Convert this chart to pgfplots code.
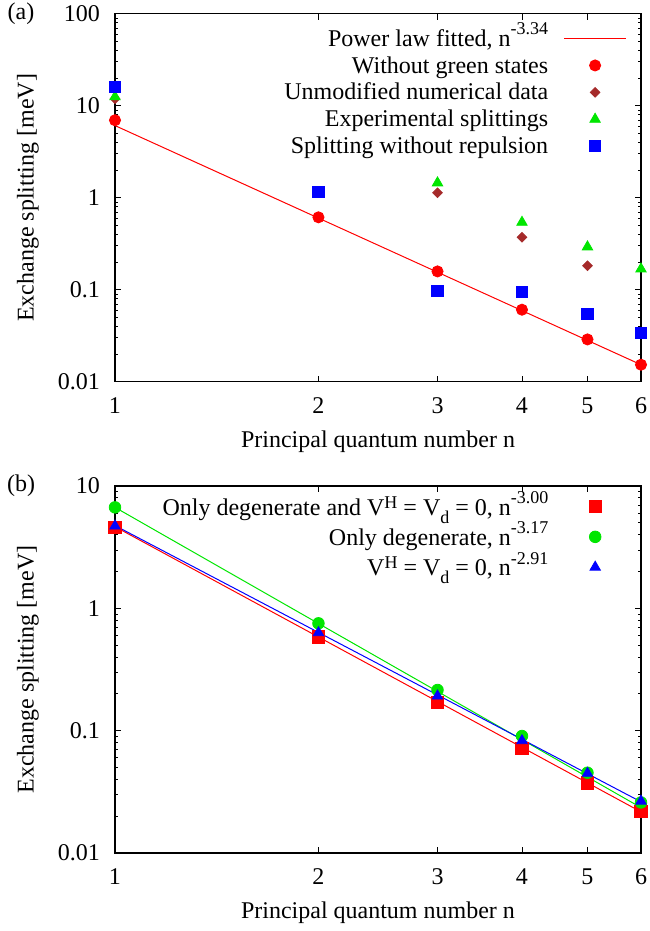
\documentclass[border=0pt]{standalone}
\usepackage{fontspec}
\setmainfont{Liberation Serif}
\usepackage{pgfplots}
\pgfplotsset{compat=1.18}

\definecolor{gpgreen}{RGB}{0,230,0}
\definecolor{gpbrown}{RGB}{165,42,42}

% gnuplot-like superscripts / subscripts
\newcommand\sups[1]{\raisebox{5.8pt}{\fontsize{9}{9}\selectfont #1}}
\newcommand\supH[1]{\raisebox{3.5pt}{\fontsize{9}{9}\selectfont #1}}
\newcommand\subs[1]{\raisebox{-4pt}{\fontsize{9}{9}\selectfont #1}}

\pgfplotsset{
  panelstyle/.style={
    scale only axis, width=263pt, height=184pt, anchor=south west,
    xmin=1, xmax=6,
    xtick={1,2,3,4,5,6}, xticklabels={1,2,3,4,5,6}, minor xtick={},
    minor ytick={0.02,0.03,0.04,0.05,0.06,0.07,0.08,0.09,
                 0.2,0.3,0.4,0.5,0.6,0.7,0.8,0.9,
                 2,3,4,5,6,7,8,9,20,30,40,50,60,70,80,90},
    axis line style={line width=0.7pt},
    tick style={black, line width=0.4pt},
    major tick length=3pt, minor tick length=1.6pt,
    xticklabel style={yshift=-4.5pt},
    yticklabel style={xshift=-4pt},
    xlabel={Principal quantum number n},
    ylabel={Exchange splitting [meV]},
    ylabel style={at={(axis description cs:-0.1654,0.5)}, anchor=center},
    legend plot pos=right, legend cell align=right,
    clip=false,
  },
  markleg/.style={only marks, legend image code/.code={\path (0pt,0pt) (31pt,0pt);
      \draw[##1] plot coordinates {(15.5pt,0pt)};}},
  lineleg/.style={legend image code/.code={\draw[##1] (0pt,0pt) -- (31pt,0pt);}},
}

\begin{document}
\begin{tikzpicture}[font=\fontsize{12}{14}\selectfont]
\useasboundingbox (-57.5pt,-39pt) rectangle (267pt,426.5pt);

% (a)
\begin{loglogaxis}[panelstyle, at={(0pt,235.65pt)},
  ymin=0.01, ymax=100,
  ytick={0.01,0.1,1,10,100}, yticklabels={0.01,0.1,1,10,100},
  xlabel style={at={(axis description cs:0.5,-0.163)}, anchor=center},
  legend style={at={(1,1)}, anchor=north east, xshift=-7.2pt, yshift=-5.7pt,
    draw=none, fill=none, inner sep=0pt, outer sep=0pt,
    column sep=7.7pt, row sep=0pt,
    nodes={inner sep=0pt, text height=10.5pt, text depth=2.95pt}},
]
\addplot[lineleg, red, line width=0.5pt] coordinates {(1,6.08) (6,0.0153)};
\addlegendentry{Power law fitted, n\sups{-3.34}}
\addplot[markleg, red, mark=*, mark size=2.8pt, mark options={fill=red}]
  coordinates {(1,6.95) (2,0.612) (3,0.158) (4,0.0606) (5,0.0288) (6,0.0153)};
\addlegendentry{Without green states}
\addplot[markleg, gpbrown, mark=square*, mark size=1.7pt, mark options={rotate=45, fill=gpbrown}]
  coordinates {(1,11.9) (3,1.13) (4,0.371) (5,0.182)};
\addlegendentry{Unmodified numerical data}
\addplot[markleg, gpgreen, mark=triangle*, mark size=3pt, mark options={fill=gpgreen}]
  coordinates {(1,12.5) (3,1.45) (4,0.54) (5,0.292) (6,0.168)};
\addlegendentry{Experimental splittings}
\addplot[markleg, blue, mark=square*, mark size=2.85pt, mark options={fill=blue}]
  coordinates {(1,16.1) (2,1.16) (3,0.0975) (4,0.0944) (5,0.0548) (6,0.0338)};
\addlegendentry{Splitting without repulsion}
\node at (rel axis cs:-0.1787,1) {(a)};
\end{loglogaxis}

% (b)
\begin{loglogaxis}[panelstyle, at={(0pt,0pt)}, height=183.5pt,
  ymin=0.01, ymax=10,
  ytick={0.01,0.1,1,10}, yticklabels={0.01,0.1,1,10},
  xlabel style={at={(axis description cs:0.5,-0.1635)}, anchor=center},
  legend style={at={(1,1)}, anchor=north east, xshift=-7.2pt, yshift=-2.7pt,
    draw=none, fill=none, inner sep=0pt, outer sep=0pt,
    column sep=7.7pt, row sep=0pt,
    nodes={inner sep=0pt, text height=11.8pt, text depth=3.35pt}},
]
\addplot[red, line width=0.5pt, forget plot] coordinates {(1,4.65) (6,0.0217)};
\addplot[gpgreen, line width=0.5pt, forget plot] coordinates {(1,6.69) (6,0.0235)};
\addplot[blue, line width=0.5pt, forget plot] coordinates {(1,4.75) (6,0.0262)};
\addplot[markleg, red, mark=square*, mark size=3.1pt, mark options={fill=red}]
  coordinates {(1,4.59) (2,0.586) (3,0.170) (4,0.0716) (5,0.0375) (6,0.0220)};
\addlegendentry{Only degenerate and V\supH{H} = V\subs{d} = 0, n\sups{-3.00}}
\addplot[markleg, gpgreen, mark=*, mark size=2.9pt, mark options={fill=gpgreen}]
  coordinates {(1,6.69) (2,0.754) (3,0.215) (4,0.0904) (5,0.0453) (6,0.0259)};
\addlegendentry{Only degenerate, n\sups{-3.17}}
\addplot[markleg, blue, mark=triangle*, mark size=3pt, mark options={fill=blue}]
  coordinates {(1,4.71) (2,0.632) (3,0.192) (4,0.0828) (5,0.0448) (6,0.0265)};
\addlegendentry{V\supH{H} = V\subs{d} = 0, n\sups{-2.91}}
\node at (rel axis cs:-0.1787,1) {(b)};
\end{loglogaxis}
\end{tikzpicture}
\end{document}
